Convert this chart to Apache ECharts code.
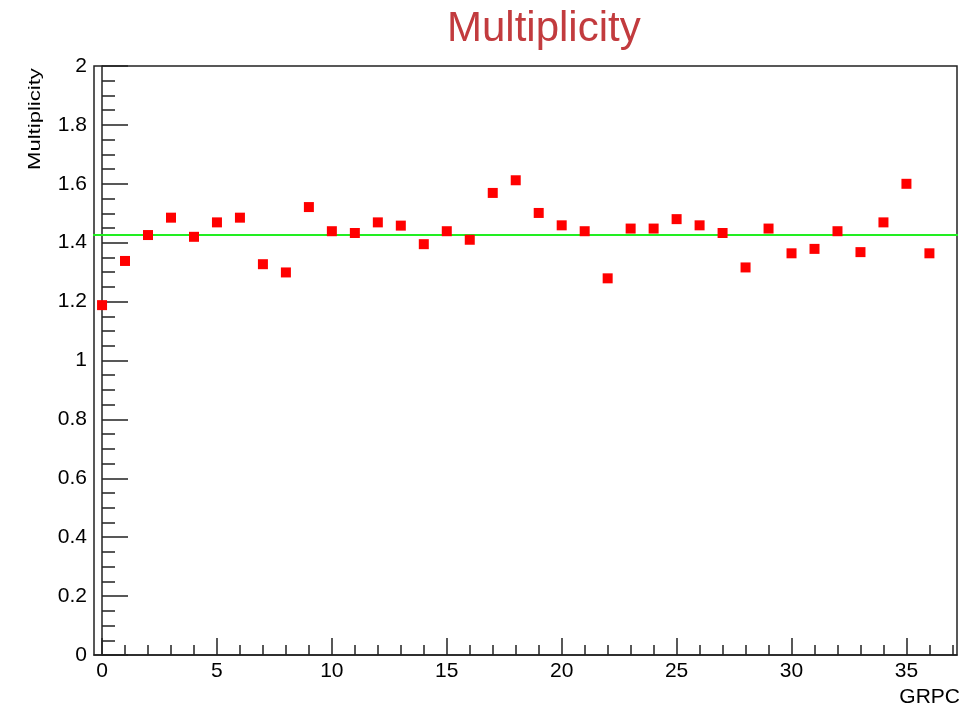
<!DOCTYPE html>
<html>
<head>
<meta charset="utf-8">
<title>Multiplicity</title>
<script src="https://cdn.jsdelivr.net/npm/echarts@6/dist/echarts.min.js"></script>
<style>
  html, body { margin: 0; padding: 0; background: #fff; }
  #main { width: 977px; height: 708px; }
</style>
</head>
<body>
<div id="main"></div>
<script>
// GRPC index and multiplicity per chamber
var grpc = [0, 1, 2, 3, 4, 5, 6, 7, 8, 9, 10, 11, 12, 13, 14, 15, 16, 17, 18,
  19, 20, 21, 22, 23, 24, 25, 26, 27, 28, 29, 30, 31, 32, 33, 34, 35, 36];
var multiplicity = [1.188, 1.338, 1.426, 1.485, 1.420, 1.469, 1.485, 1.327, 1.299,
  1.521, 1.439, 1.433, 1.469, 1.458, 1.395, 1.439, 1.410, 1.569, 1.612,
  1.501, 1.459, 1.439, 1.279, 1.448, 1.448, 1.480, 1.459, 1.433, 1.316,
  1.448, 1.364, 1.379, 1.439, 1.368, 1.469, 1.600, 1.364];
// constant fit (green line) and the range it is drawn over
var fitValue = 1.426;
var fitRange = [-0.44, 37.68];
var majorTicksX = [0, 5, 10, 15, 20, 25, 30, 35];
var minorTicksX = [0, 1, 2, 3, 4, 5, 6, 7, 8, 9, 10, 11, 12, 13, 14, 15, 16, 17, 18,
  19, 20, 21, 22, 23, 24, 25, 26, 27, 28, 29, 30, 31, 32, 33, 34, 35, 36, 37];

var font = "'Liberation Sans', Arial, Helvetica, sans-serif";
var chart = echarts.init(document.getElementById('main'));

var points = grpc.map(function (g, i) { return [g, multiplicity[i]]; });

var option = {
  animation: false,
  backgroundColor: '#fff',
  title: {
    text: 'Multiplicity',
    left: 442,
    top: 3,
    textStyle: { color: '#c23b3e', fontSize: 42, fontWeight: 'normal', fontFamily: font }
  },
  grid: {
    left: 94, right: 20, top: 66, bottom: 53,
    show: true, borderColor: '#222', borderWidth: 1.5
  },
  xAxis: [
    {
      type: 'value', min: -0.35, max: 37.2,
      axisLine: { show: true, lineStyle: { color: '#222', width: 1.5 } },
      axisTick: { show: true, inside: true, length: 17, customValues: majorTicksX, lineStyle: { color: '#222', width: 1.5 } },
      axisLabel: { customValues: majorTicksX, fontSize: 21, color: '#000', fontFamily: font, margin: 6 },
      splitLine: { show: false }
    },
    {
      type: 'value', min: -0.35, max: 37.2, position: 'bottom',
      axisLine: { show: false },
      axisTick: { show: true, inside: true, length: 10, customValues: minorTicksX, lineStyle: { color: '#222', width: 1.5 } },
      axisLabel: { show: false },
      splitLine: { show: false }
    }
  ],
  yAxis: {
    type: 'value', min: 0, max: 2, interval: 0.2,
    axisLine: { show: true, lineStyle: { color: '#222', width: 1.5 } },
    axisTick: { show: true, inside: true, length: 26, lineStyle: { color: '#222', width: 1.5 } },
    minorTick: { show: true, splitNumber: 4, length: 13, lineStyle: { color: '#222', width: 1.5 } },
    axisLabel: { fontSize: 21, color: '#000', fontFamily: font, margin: 7 },
    splitLine: { show: false }
  },
  graphic: [
    {
      type: 'text', x: 35, y: 170, rotation: Math.PI / 2, scaleX: 1.3,
      style: { text: 'Multiplicity', fontSize: 17, fill: '#000', fontFamily: font,
        textAlign: 'left', textVerticalAlign: 'middle' }
    },
    {
      type: 'text', x: 960, y: 697,
      style: { text: 'GRPC', fontSize: 21, fill: '#000', fontFamily: font,
        textAlign: 'right', textVerticalAlign: 'middle' }
    }
  ],
  series: [
    {
      type: 'line',
      clip: false,
      data: [[fitRange[0], fitValue], [fitRange[1], fitValue]],
      symbol: 'none',
      lineStyle: { color: '#22ee22', width: 2 },
      z: 1
    },
    {
      type: 'scatter',
      data: points,
      symbol: 'rect',
      symbolSize: 10,
      itemStyle: { color: '#ff0000', opacity: 1 },
      z: 3
    }
  ]
};

chart.setOption(option);
</script>
</body>
</html>
